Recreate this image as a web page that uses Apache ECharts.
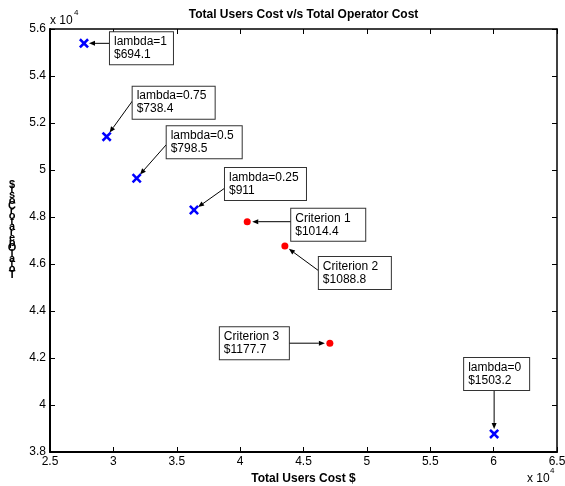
<!DOCTYPE html>
<html>
<head>
<meta charset="utf-8">
<script src="https://cdn.jsdelivr.net/npm/echarts@6/dist/echarts.min.js"></script>
<style>
  html, body { margin: 0; padding: 0; background: #fff; }
  #container { width: 565px; height: 486px; }
</style>
</head>
<body>
<div id="container"></div>
<script>
  // values in units of 10^4
  const lambdaNames = ['lambda=1', 'lambda=0.75', 'lambda=0.5', 'lambda=0.25', 'lambda=0'];
  const lambdaCosts = ['$694.1', '$738.4', '$798.5', '$911', '$1503.2'];
  const lambdaUsersCost = [2.768, 2.947, 3.184, 3.636, 6.004];
  const lambdaOperatorCost = [5.539, 5.142, 4.965, 4.830, 3.877];

  const criterionNames = ['Criterion 1', 'Criterion 2', 'Criterion 3'];
  const criterionCosts = ['$1014.4', '$1088.8', '$1177.7'];
  const criterionUsersCost = [4.056, 4.353, 4.708];
  const criterionOperatorCost = [4.780, 4.677, 4.263];

  const xTicks = ['2.5', '3', '3.5', '4', '4.5', '5', '5.5', '6', '6.5'];
  const yTicks = ['3.8', '4', '4.2', '4.4', '4.6', '4.8', '5', '5.2', '5.4', '5.6'];

  // note box layout, pixels from the marker: [boxX, boxY, boxWidth, tailX, tailY]
  const noteLayout = [
    [26, -11, 63, 26, 0],
    [26, -50, 82, 26, -36],
    [30, -52, 75, 30, -34],
    [31, -42, 81, 31, -22],
    [-30, -76, 65, 0, -43],
    [44, -13, 74, 44, 0],
    [34, 11, 72, 34, 25],
    [-110, -16, 69, -41, 0]
  ];

  const FONT = '"Liberation Sans", Arial, sans-serif';

  let lambdaData = lambdaUsersCost.map((v, i) => [v, lambdaOperatorCost[i]]);
  let criterionData = criterionUsersCost.map((v, i) => [v, criterionOperatorCost[i]]);
  let noteData = lambdaData.concat(criterionData);
  let noteText = lambdaNames.map((n, i) => n + '\n' + lambdaCosts[i])
    .concat(criterionNames.map((n, i) => n + '\n' + criterionCosts[i]));

  function renderNote(params, api) {
    let i = params.dataIndex;
    let p = api.coord([api.value(0), api.value(1)]);
    let L = noteLayout[i];
    let tx = p[0] + L[3], ty = p[1] + L[4];
    let dx = p[0] - tx, dy = p[1] - ty;
    let len = Math.sqrt(dx * dx + dy * dy);
    let ux = dx / len, uy = dy / len;
    let gap = 5, ah = 6, aw = 2.5;
    let hx = p[0] - ux * gap, hy = p[1] - uy * gap;
    let bx = hx - ux * ah, by = hy - uy * ah;
    return {
      type: 'group',
      children: [
        {type: 'line', shape: {x1: tx, y1: ty, x2: bx, y2: by}, style: {stroke: '#000', lineWidth: 1}},
        {type: 'polygon', shape: {points: [[hx, hy], [bx - uy * aw, by + ux * aw], [bx + uy * aw, by - ux * aw]]}, style: {fill: '#000'}},
        {
          type: 'text',
          x: p[0] + L[0], y: p[1] + L[1],
          style: {
            text: noteText[i], font: '12px ' + FONT, fill: '#000',
            backgroundColor: '#fff', borderColor: '#333', borderWidth: 1,
            padding: [3, 0, 3, 4], width: L[2] - 4, lineHeight: 13,
            align: 'left', verticalAlign: 'top'
          }
        }
      ]
    };
  }

  let myChart = echarts.init(document.getElementById('container'));
  let axisLine = w => ({show: true, lineStyle: {color: '#000', width: w}});
  let ticksIn = {show: true, inside: true, length: 5, lineStyle: {color: '#000', width: 1}};
  let labelStyle = {color: '#000', fontSize: 12, fontFamily: FONT};

  let option = {
    backgroundColor: '#fff',
    animation: false,
    grid: {left: 50, right: 8, top: 29, bottom: 34, outerBoundsMode: 'none', containLabel: false},
    xAxis: [{
      type: 'value', position: 'bottom', min: 2.5, max: 6.5, interval: 0.5,
      axisLine: axisLine(2), axisTick: ticksIn, splitLine: {show: false},
      axisLabel: Object.assign({margin: 4, formatter: (v) => xTicks[Math.round((v - 2.5) / 0.5)]}, labelStyle),
      name: 'Total Users Cost $', nameLocation: 'middle', nameGap: 21,
      nameTextStyle: {color: '#000', fontSize: 12, fontWeight: 'bold', fontFamily: FONT}
    }, {
      type: 'value', position: 'top', min: 2.5, max: 6.5, interval: 0.5,
      axisLine: axisLine(1.5), axisTick: ticksIn, axisLabel: {show: false}, splitLine: {show: false}
    }],
    yAxis: [{
      type: 'value', position: 'left', min: 3.8, max: 5.6, interval: 0.2,
      axisLine: axisLine(2), axisTick: ticksIn, splitLine: {show: false},
      axisLabel: Object.assign({margin: 4, formatter: (v) => yTicks[Math.round((v - 3.8) / 0.2)]}, labelStyle)
    }, {
      type: 'value', position: 'right', min: 3.8, max: 5.6, interval: 0.2,
      axisLine: axisLine(1.5), axisTick: ticksIn, axisLabel: {show: false}, splitLine: {show: false}
    }],
    graphic: [
      {type: 'text', x: 303.5, y: 15, style: {text: 'Total Users Cost v/s Total Operator Cost', font: 'bold 12px ' + FONT, fill: '#000', align: 'center', verticalAlign: 'middle'}},
      {type: 'text', x: 50, y: 21, style: {text: 'x 10', font: '12px ' + FONT, fill: '#000', align: 'left', verticalAlign: 'middle'}},
      {type: 'text', x: 74, y: 13, style: {text: '4', font: '8px ' + FONT, fill: '#000', align: 'left', verticalAlign: 'middle'}},
      {type: 'text', x: 527, y: 479, style: {text: 'x 10', font: '12px ' + FONT, fill: '#000', align: 'left', verticalAlign: 'middle'}},
      {type: 'text', x: 550, y: 471, style: {text: '4', font: '8px ' + FONT, fill: '#000', align: 'left', verticalAlign: 'middle'}},
      {type: 'text', x: 12, y: 182, style: {text: '$tsoCrotarepOlatoT'.split('').join('\n'), font: 'bold 11px ' + FONT, fill: '#000', align: 'center', verticalAlign: 'top', lineHeight: 5.3}}
    ],
    series: [
      {
        type: 'custom', name: 'notes', xAxisIndex: 0, yAxisIndex: 0,
        data: noteData, renderItem: renderNote, z: 2, silent: true
      },
      {
        type: 'scatter', name: 'lambda', data: lambdaData, z: 3,
        symbol: 'path://M0,1.8L1.8,0L5,3.2L8.2,0L10,1.8L6.8,5L10,8.2L8.2,10L5,6.8L1.8,10L0,8.2L3.2,5Z',
        symbolSize: 10, itemStyle: {color: '#0000ff', opacity: 1}
      },
      {
        type: 'scatter', name: 'criterion', data: criterionData, z: 3,
        symbol: 'circle', symbolSize: 7, itemStyle: {color: '#ff0000', opacity: 1}
      }
    ]
  };
  myChart.setOption(option, true);
</script>
</body>
</html>
